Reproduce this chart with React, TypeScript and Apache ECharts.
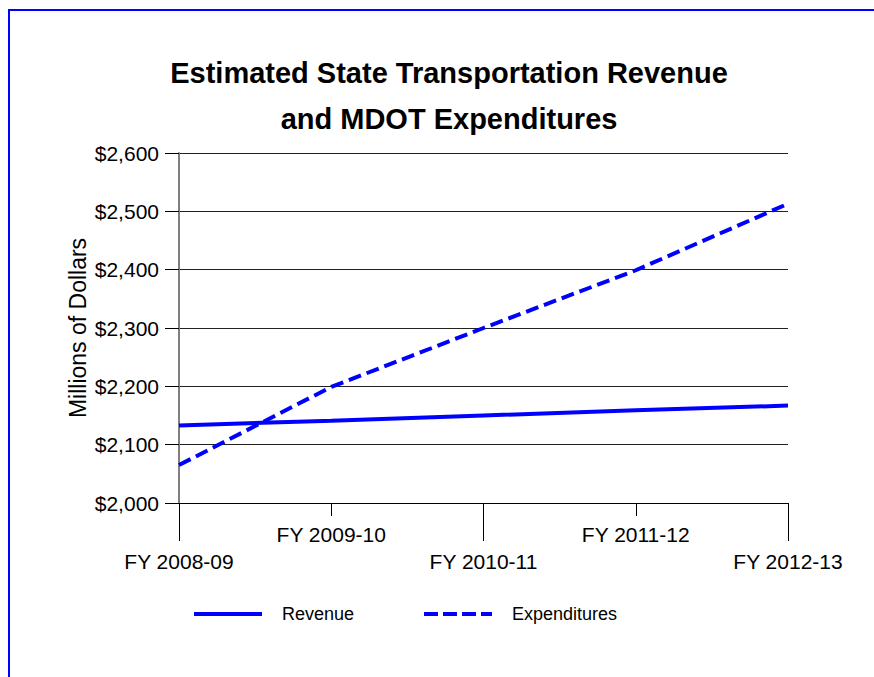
import React, { useEffect, useRef } from "react";
import * as echarts from "echarts";

const categories = ["FY 2008-09", "FY 2009-10", "FY 2010-11", "FY 2011-12", "FY 2012-13"];
const revenue = [2133, 2141, 2150, 2159, 2167];
const expenditures = [2065, 2199, 2300, 2399, 2513];
const yMin = 2000;
const yMax = 2600;
const yStep = 100;
const titleLines = ["Estimated State Transportation Revenue", "and MDOT Expenditures"];
const yAxisName = "Millions of Dollars";

const FONT = "'Liberation Sans', Arial, sans-serif";
const BLUE = "#0000ff";

function fmtDollar(v: number): string {
  const s = Math.round(v).toString();
  return "$" + s.replace(/\B(?=(\d{3})+(?!\d))/g, ",");
}

export default function App() {
  const ref = useRef<HTMLDivElement>(null);
  useEffect(() => {
    if (!ref.current) return;
    const chart = echarts.init(ref.current, null, { renderer: "svg" });
    const legendCommon = {
      top: 605,
      padding: 0,
      itemWidth: 68,
      itemHeight: 14,
      itemStyle: { opacity: 0 },
      textStyle: { fontFamily: FONT, fontSize: 18, color: "#000", padding: [0, 0, 0, 15] },
    };
    const option: any = {
      animation: false,
      backgroundColor: "#ffffff",
      title: {
        text: titleLines.join("\n"),
        left: 444,
        textAlign: "center",
        top: 45,
        textStyle: {
          fontFamily: FONT,
          fontSize: 29,
          fontWeight: "bold",
          color: "#000",
          lineHeight: 46,
        },
      },
      graphic: [
        {
          type: "rect",
          shape: { x: 9, y: 10, width: 900, height: 700 },
          style: { fill: "none", stroke: BLUE, lineWidth: 2 },
          silent: true,
        },
      ],
      legend: [
        {
          ...legendCommon,
          left: 192,
          data: ["Revenue"],
          lineStyle: { width: 4, type: "solid" },
        },
        {
          ...legendCommon,
          left: 422,
          data: ["Expenditures"],
          lineStyle: { width: 4, type: [14, 5] },
        },
      ],
      grid: { left: 179, right: 86, top: 153, bottom: 174, containLabel: false },
      xAxis: [
        {
          type: "category",
          data: categories,
          boundaryGap: false,
          position: "bottom",
          axisLine: { show: true, lineStyle: { color: "#000", width: 1 } },
          axisTick: {
            show: true,
            length: 38,
            interval: (i: number) => i % 2 === 0,
            lineStyle: { color: "#000", width: 1 },
          },
          axisLabel: {
            interval: 0,
            margin: 21,
            fontFamily: FONT,
            fontSize: 21,
            color: "#000",
            formatter: (v: string, i: number) => (i % 2 === 0 ? `{low|${v}}` : `{high|${v}}`),
            rich: {
              low: { fontFamily: FONT, fontSize: 21, color: "#000", padding: [27, 0, 0, 0] },
              high: { fontFamily: FONT, fontSize: 21, color: "#000" },
            },
          },
          splitLine: { show: false },
        },
        {
          type: "category",
          data: categories,
          boundaryGap: false,
          position: "bottom",
          axisLine: { show: false },
          axisTick: {
            show: true,
            length: 13,
            interval: (i: number) => i % 2 === 1,
            lineStyle: { color: "#000", width: 1 },
          },
          axisLabel: { show: false },
          splitLine: { show: false },
        },
      ],
      yAxis: {
        type: "value",
        min: yMin,
        max: yMax,
        interval: yStep,
        name: yAxisName,
        nameLocation: "middle",
        nameRotate: 90,
        nameGap: 90,
        nameMoveOverlap: false,
        nameTextStyle: { fontFamily: FONT, fontSize: 23, color: "#000" },
        axisLine: { show: true, lineStyle: { color: "#808080", width: 2 } },
        axisTick: { show: true, length: 14, lineStyle: { color: "#000", width: 1 } },
        axisLabel: {
          margin: 20,
          fontFamily: FONT,
          fontSize: 21,
          color: "#000",
          formatter: (v: number) => fmtDollar(v),
        },
        splitLine: { show: true, lineStyle: { color: "#222", width: 1 } },
      },
      series: [
        {
          name: "Revenue",
          type: "line",
          data: revenue,
          symbol: "none",
          lineStyle: { color: BLUE, width: 4, type: "solid" },
          itemStyle: { color: BLUE },
          z: 3,
        },
        {
          name: "Expenditures",
          type: "line",
          data: expenditures,
          symbol: "none",
          lineStyle: { color: BLUE, width: 4, type: [13, 6] },
          itemStyle: { color: BLUE },
          z: 3,
        },
      ],
    };
    chart.setOption(option);
    return () => chart.dispose();
  }, []);
  return (
    <div
      ref={ref}
      style={{ position: "fixed", left: 0, top: 0, width: 874, height: 677, background: "#fff" }}
    />
  );
}
